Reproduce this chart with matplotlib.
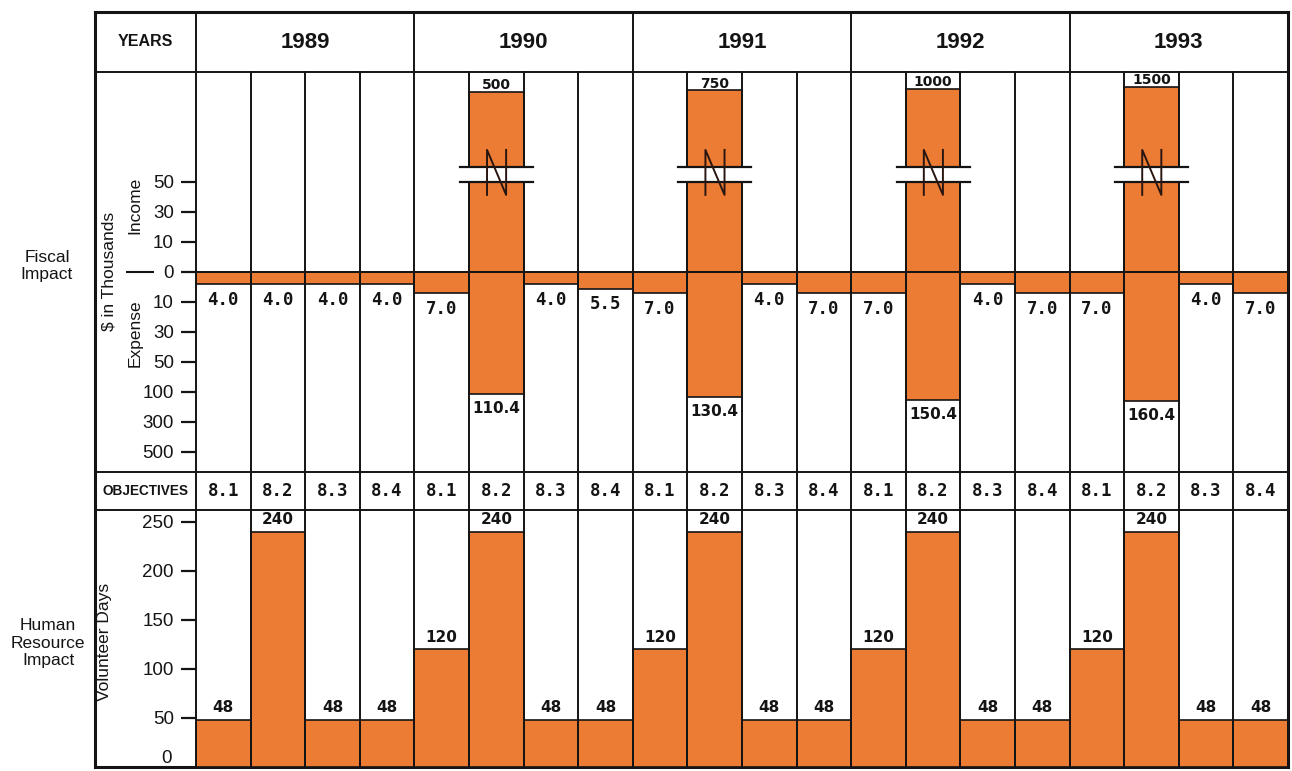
import numpy as np
import matplotlib
matplotlib.use("Agg")
import matplotlib.pyplot as plt
import matplotlib.transforms as mtransforms
from matplotlib.patches import Rectangle

# ---------------- data ----------------
years = ["1989", "1990", "1991", "1992", "1993"]
objectives = ["8.1", "8.2", "8.3", "8.4"]

# Fiscal impact, $ in thousands (one row per year, one value per objective)
income = [
    [0, 0, 0, 0],
    [0, 500, 0, 0],
    [0, 750, 0, 0],
    [0, 1000, 0, 0],
    [0, 1500, 0, 0],
]
expense = [
    [4.0, 4.0, 4.0, 4.0],
    [7.0, 110.4, 4.0, 5.5],
    [7.0, 130.4, 4.0, 7.0],
    [7.0, 150.4, 4.0, 7.0],
    [7.0, 160.4, 4.0, 7.0],
]
# Human resource impact, volunteer days
volunteer_days = [
    [48, 240, 48, 48],
    [120, 240, 48, 48],
    [120, 240, 48, 48],
    [120, 240, 48, 48],
    [120, 240, 48, 48],
]

fiscal_ticks = [50, 30, 10, 0, -10, -30, -50, -100, -300, -500]
hr_ticks = [50, 100, 150, 200, 250]

# piecewise fiscal scale: value -> evenly spaced tick slot (broken above 50)
scale_values = [-5000, -500, -300, -100, -50, -30, -10, 0, 10, 30, 50, 500, 1500, 5000]
scale_slots = [-7.0, -6, -5, -4, -3, -2, -1, 0, 1, 2, 3, 6.01, 6.18, 7.0]


def fwd(v):
    return np.interp(v, scale_values, scale_slots)


def inv(s):
    return np.interp(s, scale_slots, scale_values)


# ---------------- style ----------------
plt.rcParams["font.family"] = ["Liberation Sans", "DejaVu Sans"]
ORANGE = "#EC7B33"
INK = "#141414"
LW_FRAME = 2.2
LW_GRID = 1.4

W, H = 1292, 771
fig = plt.figure(figsize=(W / 100, H / 100), dpi=100)


def rect(x0, y0, x1, y1):
    return [x0 / W, 1 - y1 / H, (x1 - x0) / W, (y1 - y0) / H]


XL, X0, X1 = 95, 196, 1288
YT, YH, YF, YO, YB = 12, 72, 472, 510, 767

bg = fig.add_axes([0, 0, 1, 1])
bg.set_xlim(0, W)
bg.set_ylim(H, 0)
bg.axis("off")

ax_head = fig.add_axes(rect(X0, YT, X1, YH))
ax_f = fig.add_axes(rect(X0, YH, X1, YF))
ax_obj = fig.add_axes(rect(X0, YF, X1, YO))
ax_h = fig.add_axes(rect(X0, YO, X1, YB))

ncol = len(years) * len(objectives)
for ax in (ax_head, ax_f, ax_obj, ax_h):
    ax.set_xlim(0, ncol)
    ax.patch.set_alpha(0)
    for s in ax.spines.values():
        s.set_visible(False)
    ax.tick_params(axis="x", bottom=False, labelbottom=False)
for ax in (ax_head, ax_obj):
    ax.set_ylim(0, 1)
    ax.tick_params(axis="y", left=False, labelleft=False)

# frame lines (background, pixel coords)
for y in (YT, YH, YF, YO, YB):
    bg.plot([XL, X1], [y, y], color=INK, lw=LW_FRAME if y in (YT, YB) else LW_GRID,
            solid_capstyle="projecting")
for xx in (XL, X1):
    bg.plot([xx, xx], [YT, YB], color=INK, lw=LW_FRAME, solid_capstyle="projecting")

# column lines
for k in range(0, ncol + 1, len(objectives)):
    ax_head.axvline(k, color=INK, lw=LW_GRID, clip_on=False)
for ax in (ax_f, ax_obj, ax_h):
    for k in range(ncol + 1):
        ax.axvline(k, color=INK, lw=LW_GRID, clip_on=False, zorder=3)

# header text
bg.text((XL + X0) / 2, (YT + YH) / 2, "YEARS", ha="center", va="center",
        fontsize=11.5, fontweight="bold", color=INK)
for i, yr in enumerate(years):
    ax_head.text(i * len(objectives) + len(objectives) / 2, 0.5, yr, ha="center",
                 va="center", fontsize=16, fontweight="bold", color=INK)

# objectives row
bg.text((XL + X0) / 2, (YF + YO) / 2, "OBJECTIVES", ha="center", va="center",
        fontsize=9.8, fontweight="bold", color=INK)
for i in range(len(years)):
    for j, ob in enumerate(objectives):
        ax_obj.text(i * len(objectives) + j + 0.5, 0.5, ob, ha="center", va="center",
                    fontsize=12.5, fontweight="bold", family="DejaVu Sans Mono", color=INK)

# ---------------- fiscal panel ----------------
ax_f.set_yscale("function", functions=(fwd, inv))
ax_f.set_ylim(inv(-200 / 30), inv(200 / 30))
ax_f.set_yticks(fiscal_ticks)
ax_f.set_yticklabels([f"{abs(t):g}" for t in fiscal_ticks])
ax_f.yaxis.set_minor_locator(matplotlib.ticker.NullLocator())
ax_f.tick_params(axis="y", direction="out", length=11, width=1.6, pad=5,
                 labelsize=13.5, colors=INK)

x = np.arange(ncol)
inc = np.array(income, dtype=float).ravel()
exp_ = np.array(expense, dtype=float).ravel()
vd = np.array(volunteer_days, dtype=float).ravel()

m = inc > 0
ax_f.bar(x[m], inc[m], width=1, align="edge", color=ORANGE, edgecolor=INK,
         linewidth=1.2, zorder=2)
ax_f.bar(x, -exp_, width=1, align="edge", color=ORANGE, edgecolor=INK,
         linewidth=1.2, zorder=2)
ax_f.axhline(0, color=INK, lw=1.3, zorder=4)

# break symbols on the tall income bars
brk_lo, brk_hi = inv(3.0), inv(3.5)
n_lo, n_hi = inv(2.57), inv(4.07)
for xi, v in zip(x[m], inc[m]):
    if v > 50:
        ax_f.add_patch(Rectangle((xi - 0.17, brk_lo), 1.34, brk_hi - brk_lo,
                                 facecolor="white", edgecolor="none", zorder=5,
                                 clip_on=False))
        for yb in (brk_lo, brk_hi):
            ax_f.plot([xi - 0.17, xi + 1.17], [yb, yb], color=INK, lw=1.6,
                      zorder=6, clip_on=False)
        ax_f.plot([xi + 0.33, xi + 0.33, xi + 0.68, xi + 0.68],
                  [n_lo, n_hi, n_lo, n_hi], color="#2a1610", lw=1.4, zorder=7)
    ax_f.annotate(f"{v:g}", (xi + 0.5, v), xytext=(0, 2.0), textcoords="offset points",
                  ha="center", va="baseline", fontsize=10, fontweight="bold",
                  family="DejaVu Sans", color=INK, zorder=8)

for xi, v in zip(x, exp_):
    if v >= 100:
        kw = dict(fontsize=11, family="DejaVu Sans")
    else:
        kw = dict(fontsize=12.5, family="DejaVu Sans Mono")
    ax_f.annotate(f"{v:.1f}", (xi + 0.5, -v), xytext=(0, -5), textcoords="offset points",
                  ha="center", va="top", fontweight="bold", color=INK, zorder=8, **kw)

# zero dash before the 0 tick label
blend = mtransforms.blended_transform_factory(ax_f.transAxes, ax_f.transData)
ax_f.plot([(127 - X0) / (X1 - X0), (153 - X0) / (X1 - X0)], [0, 0], color=INK,
          lw=1.5, transform=blend, clip_on=False)

# ---------------- human resource panel ----------------
ax_h.set_ylim(0, 262)
ax_h.set_yticks(hr_ticks)
ax_h.tick_params(axis="y", direction="out", length=11, width=1.6, pad=5,
                 labelsize=13.5, colors=INK)
blend_h = mtransforms.blended_transform_factory(ax_h.transAxes, ax_h.transData)
ax_h.text((172 - X0) / (X1 - X0), 0, "0", transform=blend_h, ha="right",
          va="bottom", fontsize=13.5, color=INK)

ax_h.bar(x, vd, width=1, align="edge", color=ORANGE, edgecolor=INK, linewidth=1.2,
         zorder=2)
for xi, v in zip(x, vd):
    ax_h.annotate(f"{v:g}", (xi + 0.5, v), xytext=(0, 5.5), textcoords="offset points",
                  ha="center", va="baseline", fontsize=11, fontweight="bold",
                  family="DejaVu Sans", color=INK, zorder=8)

# ---------------- side labels ----------------
bg.text(109, 271, "$ in Thousands", rotation=90, ha="center", va="center",
        fontsize=12.5, color=INK)
bg.text(135, 205, "Income", rotation=90, ha="center", va="center", fontsize=12.5,
        color=INK)
bg.text(135, 333, "Expense", rotation=90, ha="center", va="center", fontsize=12.5,
        color=INK)
bg.text(104, 642, "Volunteer Days", rotation=90, ha="center", va="center",
        fontsize=12.5, color=INK)
bg.text(47, 266, "Fiscal\nImpact", ha="center", va="center", fontsize=12.5,
        color=INK, linespacing=1.2)
bg.text(48, 643, "Human\nResource\nImpact", ha="center", va="center", fontsize=12.5,
        color=INK, linespacing=1.2)

fig.savefig("out.png", dpi=100)
